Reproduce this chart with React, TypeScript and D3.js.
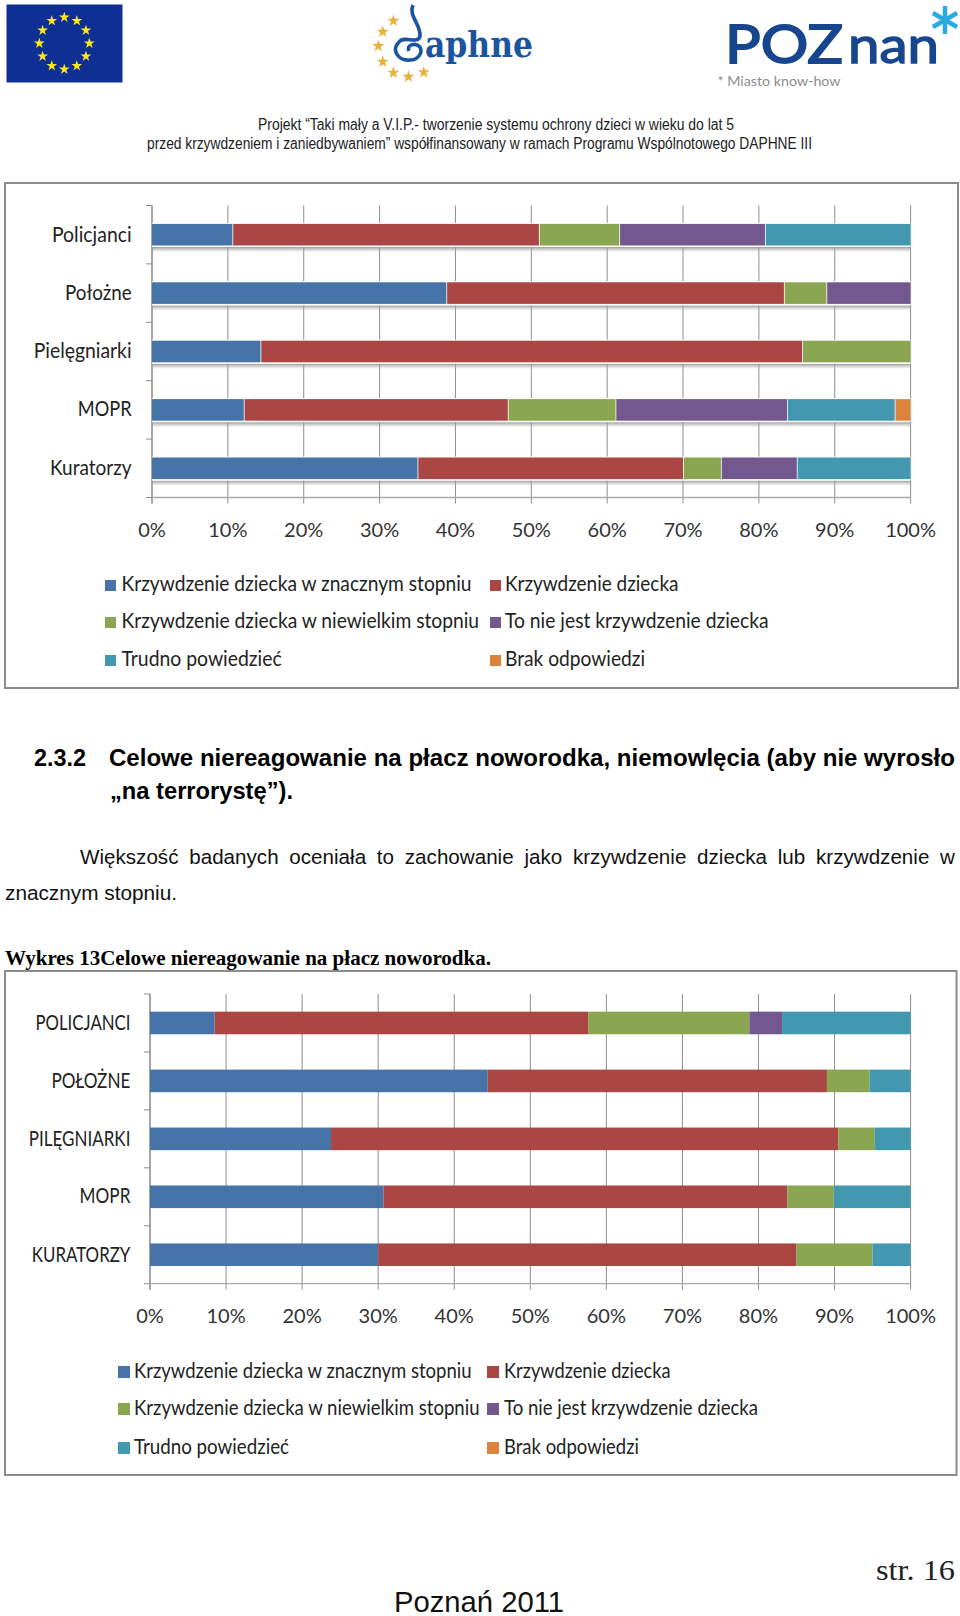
import React from "react";
import * as d3 from "d3";

const legendLabels = ["Krzywdzenie dziecka w znacznym stopniu","Krzywdzenie dziecka","Krzywdzenie dziecka w niewielkim stopniu","To nie jest krzywdzenie dziecka","Trudno powiedzieć","Brak odpowiedzi"];
const colors = ["#4674A9","#AA4644","#8AA650","#72588F","#4198B0","#DC843C"];
const keys = ["a","b","c","d","e","f"];

const categoriesTop = ["Policjanci","Położne","Pielęgniarki","MOPR","Kuratorzy"];
const policjanciTop = [10.6,40.4,10.6,19.2,19.2,0];
const polozneTop = [38.8,44.5,5.6,11.1,0,0];
const pielegniarkiTop = [14.3,71.4,14.3,0,0,0];
const moprTop = [12.1,34.8,14.2,22.6,14.2,2.1];
const kuratorzyTop = [35,35,5,10,15,0];

const categoriesBottom = ["POLICJANCI","POŁOŻNE","PILĘGNIARKI","MOPR","KURATORZY"];
const policjanciBottom = [8.5,49.1,21.2,4.3,16.9,0];
const polozneBottom = [44.4,44.6,5.6,0,5.4,0];
const pielegniarkiBottom = [23.8,66.7,4.8,0,4.7,0];
const moprBottom = [30.7,53.1,6.1,0,10.1,0];
const kuratorzyBottom = [30,55,10,0,5,0];

const rowsTop = [policjanciTop,polozneTop,pielegniarkiTop,moprTop,kuratorzyTop];
const rowsBottom = [policjanciBottom,polozneBottom,pielegniarkiBottom,moprBottom,kuratorzyBottom];

const SANS = "Lato, Carlito, sans-serif";
const ARIAL = "'Liberation Sans', Arial, sans-serif";
const TIMES = "'Liberation Serif', serif";

function T({x,y,w,size,font=ARIAL,weight,fill="#111",anchor,children,ws,stroke,sw}:any){
  return <text x={x} y={y} fontFamily={font} fontSize={size} fontWeight={weight} fill={fill} textAnchor={anchor} stroke={stroke} strokeWidth={sw}
    textLength={w} lengthAdjust={w?"spacingAndGlyphs":undefined} style={ws?{wordSpacing:ws}:undefined}>{children}</text>;
}

function Chart({cats,rows,cfg}:any){
  const x = d3.scaleLinear().domain([0,100]).range([cfg.x0,cfg.x1]);
  const y = d3.scaleBand<string>().domain(cats).range([cfg.yTop,cfg.yBot]).paddingInner(cfg.pad).paddingOuter(cfg.pad/2);
  const table = cats.map((c:string,i:number)=>{const o:any={cat:c};keys.forEach((k,j)=>o[k]=rows[i][j]);return o;});
  const stacked = d3.stack<any>().keys(keys)(table);
  const ticks = x.ticks(10);
  const steps = [0,1,2,3,4,5].map(i=>cfg.yTop+i*(cfg.yBot-cfg.yTop)/5);
  return <g>
    <rect x={cfg.fx0} y={cfg.fy0} width={cfg.fx1-cfg.fx0} height={cfg.fy1-cfg.fy0} fill="#fff" stroke="#8c8c8c" strokeWidth={2}/>
    {ticks.map(t=><line key={t} x1={x(t)} x2={x(t)} y1={cfg.yTop} y2={cfg.yBot+6} stroke="#8e8e8e" strokeWidth={1}/>)}
    <line x1={cfg.x0} x2={cfg.x0} y1={cfg.yTop} y2={cfg.yBot+6} stroke="#8e8e8e" strokeWidth={1.2}/>
    {steps.map((s,i)=><line key={i} x1={cfg.x0-6} x2={cfg.x0} y1={s} y2={s} stroke="#8e8e8e"/>)}
    <line x1={cfg.x0} x2={cfg.x1} y1={cfg.yBot} y2={cfg.yBot} stroke="#a8a8a8" strokeWidth={1.3}/>
    {cfg.shadow && cats.map((c:string)=><rect key={c} x={cfg.x0} width={cfg.x1-cfg.x0} y={y(c)!+y.bandwidth()+1.5} height={5} fill="url(#shade)"/>)}
    {cfg.shadow && cats.map((c:string)=><rect key={"w"+c} x={cfg.x0} width={cfg.x1-cfg.x0} y={y(c)!-1} height={y.bandwidth()+2.5} fill="#fff"/>)}
    {stacked.map((s:any,i:number)=><g key={i} fill={colors[i]}>
      {s.filter((d:any)=>d[1]-d[0]>0).map((d:any)=>
        <rect key={d.data.cat} x={x(d[0])+(cfg.shadow&&d[0]>0?0.8:0)} y={y(d.data.cat)} width={x(d[1])-x(d[0])-(cfg.shadow&&d[0]>0?0.8:0)} height={y.bandwidth()}/>)}
    </g>)}
    {cats.map((c:string,i:number)=><T key={c} x={cfg.labelX-cfg.catW[i]} y={cfg.catY[i]} w={cfg.catW[i]} size={21} font={SANS} fill="#222">{c}</T>)}
    {ticks.map(t=><text key={t} x={x(t)} y={cfg.tickY} textAnchor="middle" fontFamily={SANS} fontSize={20} fill="#333">{t+"%"}</text>)}
    {legendLabels.map((l,i)=>{
      const col=i%2, row=Math.floor(i/2);
      return <g key={l}>
        <rect x={cfg.swX[col]} y={cfg.legY[row]-cfg.swH} width={cfg.swW} height={cfg.swH} fill={colors[i]}/>
        <T x={cfg.legX[col]} y={cfg.legY[row]} w={cfg.legW[i]} size={21} font={SANS} fill="#222">{l}</T>
      </g>;
    })}
  </g>;
}

const cfgTop = {x0:152,x1:910.6,yTop:205.5,yBot:497.5,pad:0.63,shadow:true,fx0:5,fx1:958,fy0:183,fy1:688,labelX:131.6,
  catW:[79.6,66.6,97.9,53.8,81.6],catY:[242,300,358,416,475],tickY:536.5,
  swX:[105,490],swW:11,swH:11,legX:[121.5,505],legY:[591,628,666],legW:[350,173.5,357.5,263.5,160.2,140]};
const cfgBot = {x0:150,x1:910.6,yTop:994,yBot:1283.7,pad:0.61,shadow:false,fx0:5,fx1:956.5,fy0:971,fy1:1475,labelX:130.4,
  catW:[94.9,79,101.6,50.8,98.6],catY:[1030,1088,1146,1203,1262],tickY:1323,
  swX:[118,487],swW:12,swH:12,legX:[134,504],legY:[1378,1415,1454],legW:[337.5,166.6,345.5,254,155,135]};

const euStars = d3.range(12).map(i=>i*30);
const daphneStars = [[393.4,20.7],[382.7,31.7],[378.3,46],[382.7,61.7],[393.4,72.7],[408.4,76.7],[423.8,72.3]];
const asterisk = [0,60,120,180,240,300];

export default function App(){
  const star = d3.symbol(d3.symbolStar,36)();
  const bigStar = d3.symbol(d3.symbolStar,46)();
  return <svg width={960} height={1616} viewBox="0 0 960 1616" style={{position:"absolute",left:0,top:0,display:"block",background:"#fff"}}>
    <defs>
      <linearGradient id="shade" x1="0" y1="0" x2="0" y2="1">
        <stop offset="0" stopColor="#888" stopOpacity={0.85}/>
        <stop offset="1" stopColor="#bbb" stopOpacity={0.1}/>
      </linearGradient>
    </defs>
    <rect width={960} height={1616} fill="#fff"/>

    {/* EU flag */}
    <rect x={6.5} y={4.5} width={116} height={78} fill="#0E2F94"/>
    {euStars.map(a=>{const r=a*Math.PI/180;return <path key={a} d={star} fill="#FFE61E" transform={`translate(${64.3+25*Math.sin(r)},${43.3-26*Math.cos(r)})`}/>;})}

    {/* Daphne */}
    {daphneStars.map((p,i)=><path key={i} d={bigStar} fill="#E9B237" transform={`translate(${p[0]},${p[1]})`}/>)}
    <path d="M413 5 C408 16,421 24,420 36 C418 45,404 35,399 42 C391 50,398 61,410 60 C418 60,423 53,420 47 C415 42,406 45,409 51" fill="none" stroke="#1C559F" strokeWidth={3.6}/>
    <T x={425} y={57} w={108} size={35} font="'DejaVu Serif', serif" weight="bold" fill="#1C559F">aphne</T>

    {/* Poznan */}
    <T x={725} y={62.5} w={118} size={53} font={SANS} fill="#17468F" stroke="#17468F" sw={1.8}>POZ</T>
    <T x={848} y={62.5} w={91} size={50} font={SANS} fill="#17468F" stroke="#17468F" sw={1.4}>nan</T>
    {asterisk.map(a=>{const r=a*Math.PI/180;return <line key={a} x1={945} y1={20} x2={945+14*Math.sin(r)} y2={20-14*Math.cos(r)} stroke="#2BAAE2" strokeWidth={4.5}/>;})}
    <T x={717.5} y={86} w={123} size={14} font={SANS} fill="#8c8c8c">* Miasto know-how</T>

    {/* header */}
    <T x={258} y={130} w={476} size={16} fill="#222">Projekt “Taki mały a V.I.P.- tworzenie systemu ochrony dzieci w wieku do lat 5</T>
    <T x={147} y={149} w={665} size={16} fill="#222">przed krzywdzeniem i zaniedbywaniem” współfinansowany w ramach Programu Wspólnotowego DAPHNE III</T>

    <Chart cats={categoriesTop} rows={rowsTop} cfg={cfgTop}/>

    {/* body text */}
    <T x={34} y={766} w={52} size={24} weight="bold" fill="#000">2.3.2</T>
    <T x={109} y={766} w={846} size={24} weight="bold" fill="#000">Celowe niereagowanie na płacz noworodka, niemowlęcia (aby nie wyrosło</T>
    <T x={110} y={799} w={183} size={24} weight="bold" fill="#000">„na terrorystę”).</T>
    <T x={80} y={864} w={875} size={20.5} ws={5}>Większość badanych oceniała to zachowanie jako krzywdzenie dziecka lub krzywdzenie w</T>
    <T x={5} y={900} w={172} size={20.5}>znacznym stopniu.</T>
    <T x={5} y={965} w={486} size={21} font={TIMES} weight="bold" fill="#000">Wykres 13Celowe niereagowanie na płacz noworodka.</T>

    <Chart cats={categoriesBottom} rows={rowsBottom} cfg={cfgBot}/>

    <T x={876} y={1580} w={79} size={30} font={TIMES} fill="#222">str. 16</T>
    <T x={394} y={1612} w={170} size={30} fill="#111">Poznań 2011</T>
  </svg>;
}
